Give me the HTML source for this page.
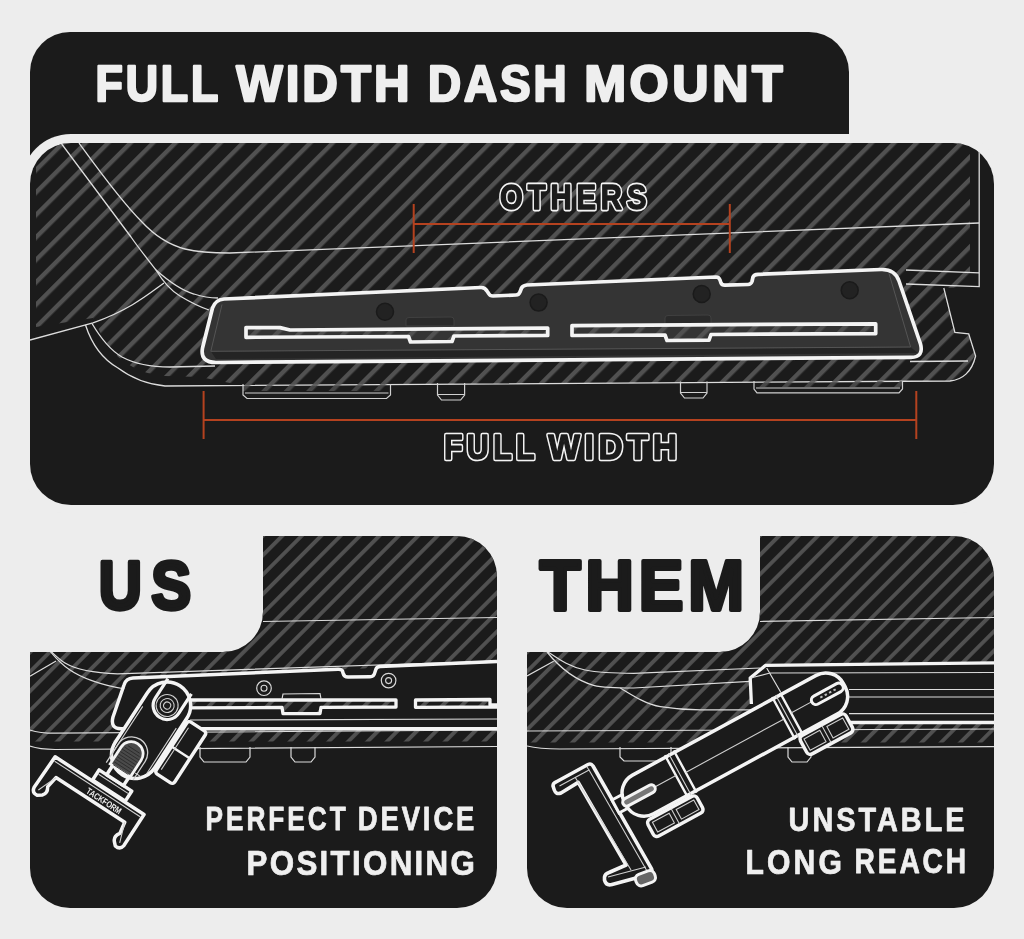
<!DOCTYPE html>
<html><head><meta charset="utf-8">
<style>
html,body{margin:0;padding:0;background:#ededed;}
body{width:1024px;height:939px;overflow:hidden;}
svg{display:block;will-change:transform;}
text{font-family:"Liberation Sans",sans-serif;font-weight:bold;}
</style></head><body>
<svg width="1024" height="939" viewBox="0 0 1024 939">
<defs>
<pattern id="stT" patternUnits="userSpaceOnUse" width="15.8816" height="15.8816" patternTransform="rotate(45) translate(0.566 0)"><rect x="0" y="0" width="4.384" height="15.8816" fill="#515151"/></pattern>
<pattern id="stU" patternUnits="userSpaceOnUse" width="13.7179" height="13.7179" patternTransform="rotate(45) translate(0.424 0)"><rect x="0" y="0" width="3.818" height="13.7179" fill="#515151"/></pattern>
<pattern id="stM" patternUnits="userSpaceOnUse" width="13.7179" height="13.7179" patternTransform="rotate(45) translate(8.768 0)"><rect x="0" y="0" width="3.818" height="13.7179" fill="#515151"/></pattern>
<clipPath id="cpTop"><rect x="30" y="143" width="964" height="362" rx="41"/></clipPath>
<clipPath id="cpUS"><path d="M30 652 L223 652 A40 40 0 0 0 263 612 L263 536 L457 536 A40 40 0 0 1 497 576 L497 868 A40 40 0 0 1 457 908 L70 908 A40 40 0 0 1 30 868 Z"/></clipPath>
<clipPath id="cpTH"><path d="M527 652 L720 652 A40 40 0 0 0 760 612 L760 536 L954 536 A40 40 0 0 1 994 576 L994 868 A40 40 0 0 1 954 908 L567 908 A40 40 0 0 1 527 868 Z"/></clipPath>
</defs>
<rect width="1024" height="939" fill="#ededed"/>
<path d="M30 72 A40 40 0 0 1 70 32 L809 32 A40 40 0 0 1 849 72 L849 170 L30 170 Z" fill="#1b1b1b"/>
<rect x="21" y="134" width="982" height="380" rx="50" fill="#ededed"/>
<rect x="30" y="143" width="964" height="362" rx="41" fill="#1b1b1b"/>
<g clip-path="url(#cpTop)">
<path fill="url(#stT)" d="M36 143 L970 143 L970 287 L943 288 L955 332 L969 334 L975 355 L966 372 L955 381 L650 383 L240 385 L200 377 L165 376 C140 374 118 362 104 340 L93 318 L36 327 Z"/>
<path fill="none" stroke="#dcdcdc" stroke-width="1.3" d="M61 143 L131 237 C140 250 150 262 156 270 C162 280 170 290 180 296 C190 302 200 307 209 310"/>
<path fill="none" stroke="#dcdcdc" stroke-width="1.3" d="M156 270 C165 278 180 290 194 294 C203 297 211 298 218 298"/>
<path fill="none" stroke="#dcdcdc" stroke-width="1.3" d="M79 143 C95 165 120 200 142 222 C155 236 170 245 185 249 C197 252 210 253 230 253 L979 223"/>
<path fill="none" stroke="#dcdcdc" stroke-width="1.3" d="M30 340 L93 322.8 C130 310 150 293 164 283"/>
<path fill="none" stroke="#dcdcdc" stroke-width="1.3" d="M85.5 325 C92 345 104 360 118 368 C130 377 145 384 165 386 L950 381 C962 380 972 372 975.6 356 L968.7 333.8 L954.9 332.4 L943.8 288"/>
<path fill="none" stroke="#dcdcdc" stroke-width="1.3" d="M92 323.5 C100 337 110 350 122 357 C135 364 150 367 170 367 L215 366 M910 361.5 L968 361"/>
<path fill="none" stroke="#dcdcdc" stroke-width="1.3" d="M979.2 143 L979.2 286.7 L906 284 M906 270 L979.2 272.9"/>
<path fill="url(#stT)" opacity="0.8" d="M243 384 L390.5 384 L390.5 391 L243 391 Z"/>
<path fill="none" stroke="#d0d0d0" stroke-width="1.2" d="M243 384 L243 395 L247 398.5 L386.5 398.5 L390.5 395 L390.5 384 M245 393 L388.5 393"/>
<path fill="none" stroke="#d0d0d0" stroke-width="1.2" d="M437.5 383 L437.5 395 L441.5 400 L460.6 400 L464.6 395 L464.6 383 M438 394.5 L464 394.5"/>
<path fill="none" stroke="#d0d0d0" stroke-width="1.2" d="M680.5 381.5 L680.5 393 L684.5 398 L703 398 L707 393 L707 381.5 M681 392.5 L706.5 392.5"/>
<path fill="url(#stT)" opacity="0.8" d="M754 381 L902.5 381 L902.5 387 L754 387 Z"/>
<path fill="none" stroke="#d0d0d0" stroke-width="1.2" d="M754 381 L754 389 L757 392.8 L899 392.8 L902.5 389 L902.5 381 M756 388 L900 388"/>
<path fill="#343434" stroke="#f4f4f4" stroke-width="3.7" stroke-linejoin="round" d="M224 299 L481 287.5 Q485 287.4 487 291 L489 294 Q490 296 493 296 L516 295 Q519 295 520 292 L521.5 288 Q523 285.3 527 285 L716 277 Q719 277 720 280 L721 283 Q722 285.3 725 285.2 L748 284.5 Q751 284.4 752 281.5 L753 277 Q754 274.5 758 274.3 L881 269.5 Q895 269 899 281 L920.5 344 Q924 357.3 911 357.3 L216 362.5 Q200 362.5 202.5 348 L212.5 308 Q215 300 224 299 Z"/>
<path fill="#242424" d="M211 351.5 L911 347.5 L918 353 L216 359 Z"/>
<path fill="none" stroke="#555" stroke-width="1" d="M222 304.5 L210.8 351.3 L910.6 347 L889 273.5"/>
<circle cx="385" cy="311.7" r="8.5" fill="#222" stroke="#1a1a1a" stroke-width="1.5"/>
<circle cx="538.6" cy="302.6" r="8.5" fill="#222" stroke="#1a1a1a" stroke-width="1.5"/>
<circle cx="701.7" cy="294" r="8.5" fill="#222" stroke="#1a1a1a" stroke-width="1.5"/>
<circle cx="849.7" cy="290.2" r="8.5" fill="#222" stroke="#1a1a1a" stroke-width="1.5"/>
<path fill="#2a2a2a" stroke="#404040" stroke-width="1" d="M406 326 L406 320 Q406 317.5 409 317.5 L451 317 Q454 317 454 320 L454 326 Z"/>
<path fill="#2a2a2a" stroke="#404040" stroke-width="1" d="M665 324 L665 318 Q665 315.5 668 315.5 L708 315 Q711 315 711 318 L711 324 Z"/>
<path fill="url(#stT)" stroke="#f4f4f4" stroke-width="3.7" stroke-linejoin="round" d="M246 327.6 L280 327.6 L290 330 L547.7 328 L547.7 335.5 L454 336 L452 341.5 L410.5 342 L408.5 336.5 L246 337.3 Z"/>
<path fill="url(#stT)" stroke="#f4f4f4" stroke-width="3.7" stroke-linejoin="round" d="M572 325.6 L875.7 323.8 L875.7 333.6 L711 334.5 L709 340.2 L667 340.5 L665 335 L572 335.5 Z"/>
<path fill="none" stroke="#b5421f" stroke-width="2" d="M413.7 204 L413.7 253 M729.8 204 L729.8 253 M413.7 224 L729.8 224"/>
<path fill="none" stroke="#b5421f" stroke-width="2" d="M203.6 391 L203.6 439 M916.3 391 L916.3 439 M203.6 420 L916.3 420"/>
<text x="0" y="0" transform="translate(500.00 209.00) scale(0.8408032426307832 1)" font-size="34.80" textLength="174.12" lengthAdjust="spacing" fill="#f4f4f4" stroke="#f4f4f4" stroke-width="4.4" stroke-linejoin="round" vector-effect="non-scaling-stroke">OTHERS</text>
<text x="0" y="0" transform="translate(500.00 209.00) scale(0.8408032426307832 1)" font-size="34.80" textLength="174.12" lengthAdjust="spacing" fill="#1b1b1b" stroke="#1b1b1b" stroke-width="1.3" stroke-linejoin="round" vector-effect="non-scaling-stroke">OTHERS</text>
<text x="0" y="0" transform="translate(444.00 458.60) scale(0.8501595493210725 1)" font-size="35.80" textLength="106.57" lengthAdjust="spacing" fill="#f4f4f4" stroke="#f4f4f4" stroke-width="4.4" stroke-linejoin="round" vector-effect="non-scaling-stroke">FULL</text>
<text x="0" y="0" transform="translate(444.00 458.60) scale(0.8501595493210725 1)" font-size="35.80" textLength="106.57" lengthAdjust="spacing" fill="#1b1b1b" stroke="#1b1b1b" stroke-width="1.3" stroke-linejoin="round" vector-effect="non-scaling-stroke">FULL</text>
<text x="0" y="0" transform="translate(548.20 458.60) scale(0.9370294347469297 1)" font-size="35.80" textLength="137.46" lengthAdjust="spacing" fill="#f4f4f4" stroke="#f4f4f4" stroke-width="4.4" stroke-linejoin="round" vector-effect="non-scaling-stroke">WIDTH</text>
<text x="0" y="0" transform="translate(548.20 458.60) scale(0.9370294347469297 1)" font-size="35.80" textLength="137.46" lengthAdjust="spacing" fill="#1b1b1b" stroke="#1b1b1b" stroke-width="1.3" stroke-linejoin="round" vector-effect="non-scaling-stroke">WIDTH</text>
</g>
<text x="0" y="0" transform="translate(95.40 101.20) scale(0.9082311176194757 1)" font-size="49.20" textLength="135.43" lengthAdjust="spacing" fill="#efefef" stroke="#efefef" stroke-width="2.3" stroke-linejoin="round" vector-effect="non-scaling-stroke">FULL</text>
<text x="0" y="0" transform="translate(236.20 101.20) scale(1.000201774013575 1)" font-size="49.20" textLength="173.27" lengthAdjust="spacing" fill="#efefef" stroke="#efefef" stroke-width="2.3" stroke-linejoin="round" vector-effect="non-scaling-stroke">WIDTH</text>
<text x="0" y="0" transform="translate(428.00 101.20) scale(0.9317521501612853 1)" font-size="49.20" textLength="148.86" lengthAdjust="spacing" fill="#efefef" stroke="#efefef" stroke-width="2.3" stroke-linejoin="round" vector-effect="non-scaling-stroke">DASH</text>
<text x="0" y="0" transform="translate(584.20 101.20) scale(1.0217049891652403 1)" font-size="49.20" textLength="194.28" lengthAdjust="spacing" fill="#efefef" stroke="#efefef" stroke-width="2.3" stroke-linejoin="round" vector-effect="non-scaling-stroke">MOUNT</text>
<path d="M30 652 L223 652 A40 40 0 0 0 263 612 L263 536 L457 536 A40 40 0 0 1 497 576 L497 868 A40 40 0 0 1 457 908 L70 908 A40 40 0 0 1 30 868 Z" fill="#1b1b1b"/>
<g clip-path="url(#cpUS)">
<path fill="url(#stU)" d="M30 536 L497 536 L497 741.6 L30 741.6 Z"/>
<path fill="none" stroke="#dcdcdc" stroke-width="1.2" d="M29.9 676.3 L56.1 661"/>
<path fill="none" stroke="#dcdcdc" stroke-width="1.2" d="M50.4 650.8 C55 655 60 660 65 663 C75 669 95 673 117.5 673.8 L497 661"/>
<path fill="none" stroke="#dcdcdc" stroke-width="1.2" d="M49.7 650.8 C55 657 62 665 70 670 C80 677 100 685 125 689"/>
<path fill="none" stroke="#dcdcdc" stroke-width="1.2" d="M263 621.5 L497 617.5"/>
<path fill="none" stroke="#dcdcdc" stroke-width="1.2" d="M29.9 730 C36 732 42 733.2 55 733.2 L497 730"/>
<path fill="none" stroke="#dcdcdc" stroke-width="1.2" d="M29.9 746 C36 748 42 749.2 55 749.5 L497 746.5"/>
<path fill="#1b1b1b" d="M129 678 L497 663 L497 729 L118 729 Q110 727 112.5 716 Z"/>
<path fill="none" stroke="#dcdcdc" stroke-width="1.2" d="M200 747 L200 757 L204 762 L246 762 L250 757 L250 747 M291 747 L291 757 L295 762 L311 762 L315 757 L315 747"/>
<path fill="none" stroke="#f4f4f4" stroke-width="3.5" stroke-linejoin="round" d="M497 661.6 L380 666.5 Q377 666.6 376 669 L375 672 Q374 676.8 370 676.8 L348 677 Q344 677 343 673 L342.5 671 Q341.6 669.2 338 669.3 L133 678 Q126 678.3 124 685 L113 717 Q110 728.5 121 728.7 L497 728.7"/>
<path fill="none" stroke="#dcdcdc" stroke-width="1.2" d="M190 720 L497 719"/>
<circle cx="264" cy="688.2" r="7.3" fill="none" stroke="#d8d8d8" stroke-width="1.2"/><circle cx="264" cy="688.2" r="3" fill="none" stroke="#d8d8d8" stroke-width="1.1"/>
<circle cx="388.6" cy="680.6" r="7.3" fill="none" stroke="#d8d8d8" stroke-width="1.2"/><circle cx="388.6" cy="680.6" r="3" fill="none" stroke="#d8d8d8" stroke-width="1.1"/>
<path fill="url(#stU)" stroke="#f4f4f4" stroke-width="3.3" stroke-linejoin="round" d="M180 700 L396 700 L396 707 L321 707.3 L320 713.5 L283 713.7 L282 707.5 L180 707.8 Z"/>
<path fill="url(#stU)" stroke="#f4f4f4" stroke-width="3.3" stroke-linejoin="round" d="M415.5 700 L490 699.5 L490 705 L497 705 L497 707 L415.5 707.3 Z"/>
<path fill="none" stroke="#dcdcdc" stroke-width="1.2" d="M282 699 L283 694 L320 693.5 L321 699"/>
<g transform="translate(135 755) rotate(-57)">
<path fill="#1b1b1b" stroke="#f4f4f4" stroke-width="3.5" stroke-linejoin="round" d="M-45 -66 L-45 40 L-82 40 Q-88 39 -87 33 L-84 30 Q-80 26 -74 30 L-62 28 L-62 -54 L-74 -56 Q-80 -52 -84 -56 L-87 -60 Q-88 -66 -82 -67 Z"/>
<path fill="none" stroke="#cfcfcf" stroke-width="1.1" d="M-49 -64 L-49 38 M-62 28 L-82 35 M-62 -54 L-82 -62"/>
<text x="0" y="0" font-size="9" fill="#f0f0f0" transform="translate(-58.5 -21) rotate(90)" textLength="40" lengthAdjust="spacingAndGlyphs">TACKFORM</text>
<rect x="-44" y="-22" width="12" height="39" fill="#1b1b1b" stroke="#f4f4f4" stroke-width="3.5" stroke-linejoin="round"/>
<path fill="none" stroke="#cfcfcf" stroke-width="1.1" d="M-36 -20 L-36 15"/>
<rect x="-32" y="-13" width="11" height="20" fill="#1b1b1b" stroke="#f4f4f4" stroke-width="3.5" stroke-linejoin="round"/>
<rect x="-23.5" y="-23.5" width="106" height="47" rx="23.5" fill="#1b1b1b" stroke="#f4f4f4" stroke-width="3.5" stroke-linejoin="round"/>
<rect x="-4" y="26" width="62" height="22" rx="3" fill="#1b1b1b" stroke="#f4f4f4" stroke-width="3.5" stroke-linejoin="round"/>
<path fill="none" stroke="#f4f4f4" stroke-width="2.5" d="M27 26 L27 48"/>
<path fill="none" stroke="#cfcfcf" stroke-width="1.1" d="M2 30 L52 30 M-10 -20 L45 -20 M-10 20 L45 20 M-15 -17 L-15 -10 M-15 10 L-15 17"/>
<circle cx="59" cy="0" r="11" fill="none" stroke="#cfcfcf" stroke-width="1.1"/><circle cx="59" cy="0" r="7" fill="none" stroke="#cfcfcf" stroke-width="1.1"/><circle cx="59" cy="0" r="3.5" fill="none" stroke="#cfcfcf" stroke-width="1.1"/>
<path fill="none" stroke="#f4f4f4" stroke-width="3.2" d="M82 -14 L59 -14 A14 14 0 0 0 59 14 L82 14"/>
<path fill="none" stroke="#cfcfcf" stroke-width="1.3" d="M-22 -20 L0 -20 A16 16 0 0 1 0 12 L-22 12"/>
<path fill="#4a4a4a" stroke="#f4f4f4" stroke-width="2.8" d="M-21 -16 L-1 -16 A12 12 0 0 1 -1 8 L-21 8 Z"/>
<path fill="none" stroke="#2a2a2a" stroke-width="0.8" d="M-20 -13 L-20 5 M-17 -14 L-17 6 M-14 -14 L-14 6 M-11 -14 L-11 6 M-8 -14 L-8 6 M-5 -14 L-5 6 M-2 -14 L-2 6 M1 -13 L1 5 M4 -11 L4 3"/>
</g>
</g>
<text x="0" y="0" transform="translate(98.80 609.20) scale(0.8760187777840016 1)" font-size="68.20" textLength="105.25" lengthAdjust="spacing" fill="#1b1b1b" stroke="#1b1b1b" stroke-width="4" stroke-linejoin="round" vector-effect="non-scaling-stroke">US</text>
<path d="M527 652 L720 652 A40 40 0 0 0 760 612 L760 536 L954 536 A40 40 0 0 1 994 576 L994 868 A40 40 0 0 1 954 908 L567 908 A40 40 0 0 1 527 868 Z" fill="#1b1b1b"/>
<g clip-path="url(#cpTH)">
<path fill="url(#stM)" d="M527 536 L994 536 L994 742.6 L527 742.6 Z"/>
<path fill="none" stroke="#dcdcdc" stroke-width="1.2" d="M527 676 L553.7 661.3"/>
<path fill="none" stroke="#dcdcdc" stroke-width="1.2" d="M548 652 C560 660 570 667 585 670 C600 673 615 673.3 633.6 673.3 L760 668"/>
<path fill="none" stroke="#dcdcdc" stroke-width="1.2" d="M547 652 C560 668 575 680 593.6 685.3 C605 688 620 688 633.6 688 L750 681.3"/>
<path fill="none" stroke="#dcdcdc" stroke-width="1.2" d="M620.3 688 C635 697 648 705 660.3 706.6 C675 709 690 709.8 700.3 709.8 L751 709.8"/>
<path fill="none" stroke="#dcdcdc" stroke-width="1.2" d="M760 621.5 L994 617.5"/>
<path fill="none" stroke="#dcdcdc" stroke-width="1.2" d="M527 731 L994 729"/>
<path fill="none" stroke="#dcdcdc" stroke-width="1.2" d="M527 746 C535 748 545 749 560 749 L994 746.6"/>
<path fill="#1b1b1b" d="M750.2 678.1 L765.4 665.4 L994 663 L994 722.5 L751.4 722.5 Z"/>
<path fill="none" stroke="#f4f4f4" stroke-width="3.3" stroke-linejoin="round" d="M751.4 704 L750.2 678.1 L765.4 665.4 L994 662.9"/>
<path fill="none" stroke="#f4f4f4" stroke-width="3.3" d="M850 722.5 L994 722.5"/>
<path fill="none" stroke="#dcdcdc" stroke-width="1.2" d="M766.7 668 L780.6 692 M750.5 678 L770 673 L994 672.5 M849 689.5 L994 689.5 M849 697 L994 697 M849 713.6 L994 713.6"/>
<path fill="none" stroke="#dcdcdc" stroke-width="1.2" d="M620 747 L620 757 L624 761 L667 761 L671 757 L671 747 M788 747 L788 757 L792 762 L807 762 L811 757 L811 747"/>
<path fill="#1b1b1b" stroke="#f4f4f4" stroke-width="3.6" stroke-linejoin="round" d="M556 782 L588 764.5 Q591 763 593 766 L651.6 868.9 Q653 873 649 874.5 L612 884.5 Q606 886 604.5 880 L604.5 877 Q605 873.6 609 872.5 L626.1 865 L578.2 782.4 L561 793 Q556 795 554.3 790 L553 786 Q553 783 556 782 Z"/>
<path fill="none" stroke="#cfcfcf" stroke-width="1.1" d="M559.5 786 L589 770 L647 871 M589 770 L587 767 M608 877 L646 867 M575 777 L631 870"/>
<rect x="0" y="0" width="20" height="12" rx="5" fill="#666" stroke="#f4f4f4" stroke-width="3" transform="translate(634 876) rotate(-20)"/>
<path fill="#1b1b1b" stroke="#f4f4f4" stroke-width="3" d="M612 800 L625 793 L632 806 L619 813 Z"/>
<g transform="rotate(-28.5)">
<rect x="166" y="983" width="249" height="44" rx="20" fill="#1b1b1b" stroke="#f4f4f4" stroke-width="3.5" stroke-linejoin="round"/>
<path fill="none" stroke="#f4f4f4" stroke-width="2.4" d="M224 981 L224 1029 M234 981 L234 1029 M346 981 L346 1029 M355 981 L355 1029"/>
<path fill="none" stroke="#cfcfcf" stroke-width="1.1" d="M228 981 L228 1029 M350 981 L350 1029 M190 1004 L224 1004 M355 1004 L385 1004 M234 1006 L346 1006"/>
<rect x="176" y="1030" width="56" height="19" rx="4" fill="#1b1b1b" stroke="#f4f4f4" stroke-width="3.5" stroke-linejoin="round"/>
<rect x="350" y="1029" width="52" height="21" rx="4" fill="#1b1b1b" stroke="#f4f4f4" stroke-width="3.5" stroke-linejoin="round"/>
<path fill="none" stroke="#cfcfcf" stroke-width="1.1" d="M204 1031 L204 1048 M376 1030 L376 1049 M181 1034 L200 1034 L200 1045 L181 1045 Z M208 1034 L228 1034 L228 1045 L208 1045 Z M354 1033 L372 1033 L372 1046 L354 1046 Z M380 1033 L398 1033 L398 1046 L380 1046 Z"/>
<path fill="#777" stroke="#f4f4f4" stroke-width="3" d="M168 1000 L196 1000 A4 4 0 0 1 196 1008 L168 1008 A4 4 0 0 1 168 1000 Z"/>
<path fill="#1b1b1b" stroke="#f4f4f4" stroke-width="3" d="M383 1000 L409 1000 A4.5 4.5 0 0 1 409 1009 L383 1009 A4.5 4.5 0 0 1 383 1000 Z"/>
<path fill="none" stroke="#bbb" stroke-width="2" stroke-dasharray="2.5 2.5" d="M388 1004.5 L407 1004.5"/>
</g>
</g>
<text x="0" y="0" transform="translate(539.80 610.20) scale(0.9627674682421602 1)" font-size="69.57" textLength="212.10" lengthAdjust="spacing" fill="#1b1b1b" stroke="#1b1b1b" stroke-width="4" stroke-linejoin="round" vector-effect="non-scaling-stroke">THEM</text>
<text x="0" y="0" transform="translate(205.60 830.00) scale(0.7720513045907874 1)" font-size="34.00" textLength="181.46" lengthAdjust="spacing" fill="#efefef" stroke="#efefef" stroke-width="0.7" stroke-linejoin="round" vector-effect="non-scaling-stroke">PERFECT</text>
<text x="0" y="0" transform="translate(357.80 830.00) scale(0.8074958304252164 1)" font-size="34.00" textLength="144.40" lengthAdjust="spacing" fill="#efefef" stroke="#efefef" stroke-width="0.7" stroke-linejoin="round" vector-effect="non-scaling-stroke">DEVICE</text>
<text x="0" y="0" transform="translate(246.60 874.80) scale(0.90033127331008 1)" font-size="34.80" textLength="253.57" lengthAdjust="spacing" fill="#efefef" stroke="#efefef" stroke-width="0.7" stroke-linejoin="round" vector-effect="non-scaling-stroke">POSITIONING</text>
<text x="0" y="0" transform="translate(788.60 830.80) scale(0.8481072234478781 1)" font-size="34.00" textLength="207.52" lengthAdjust="spacing" fill="#efefef" stroke="#efefef" stroke-width="0.7" stroke-linejoin="round" vector-effect="non-scaling-stroke">UNSTABLE</text>
<text x="0" y="0" transform="translate(745.40 874.40) scale(0.8666468268549085 1)" font-size="34.80" textLength="111.46" lengthAdjust="spacing" fill="#efefef" stroke="#efefef" stroke-width="0.7" stroke-linejoin="round" vector-effect="non-scaling-stroke">LONG</text>
<text x="0" y="0" transform="translate(854.60 873.40) scale(0.8104665040581461 1)" font-size="34.80" textLength="137.58" lengthAdjust="spacing" fill="#efefef" stroke="#efefef" stroke-width="0.7" stroke-linejoin="round" vector-effect="non-scaling-stroke">REACH</text>
</svg>
</body></html>
